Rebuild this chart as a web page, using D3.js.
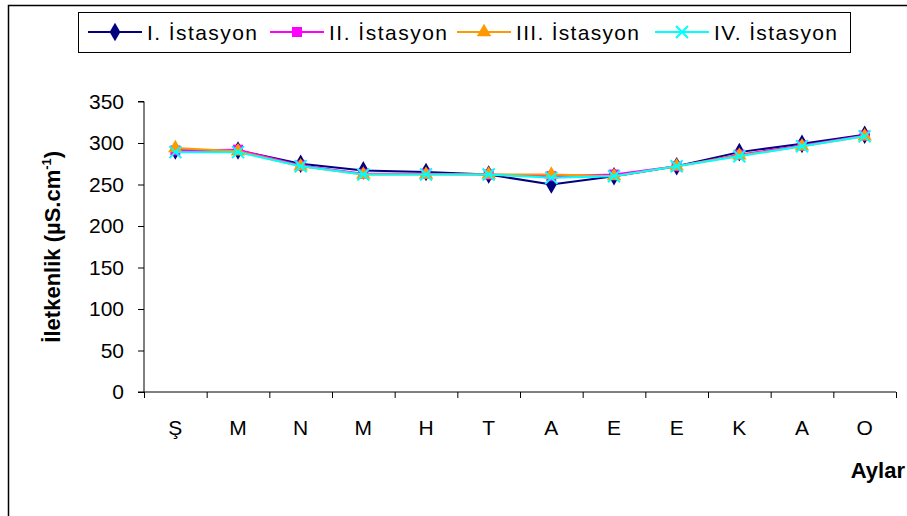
<!DOCTYPE html>
<html>
<head>
<meta charset="utf-8">
<script src="https://cdn.jsdelivr.net/npm/d3@7/dist/d3.min.js"></script>
<style>
  body { margin: 0; background: #fff; }
  text { font-family: "Liberation Sans", Arial, sans-serif; fill: #000; }
</style>
</head>
<body>
<svg id="chart" width="907" height="516"></svg>
<script>
// Monthly conductivity by station
const months = ["Ş", "M", "N", "M", "H", "T", "A", "E", "E", "K", "A", "O"];
const station1 = [291, 291, 275, 267, 265, 262, 250, 260, 272, 289, 299, 310];
const station2 = [291, 292, 273, 263, 263, 262, 260, 262, 272, 286, 297, 309];
const station3 = [294, 290, 272, 262, 262, 262, 262, 260, 272, 285, 296, 308];
const station4 = [289, 289, 272, 262, 262, 262, 258, 260, 272, 284, 296, 308];
const seriesNames = ["I. İstasyon", "II. İstasyon", "III. İstasyon", "IV. İstasyon"];
const yTicks = [0, 50, 100, 150, 200, 250, 300, 350];

const colors = ["#000080", "#ff00ff", "#ff9900", "#00ffff"];
const markers = ["diamond", "square", "triangle", "x"];
const seriesValues = [station1, station2, station3, station4];

const svg = d3.select("#chart");

// outer frame
svg.append("rect")
  .attr("x", 8.5).attr("y", 5.5).attr("width", 920).attr("height", 530)
  .attr("fill", "none").attr("stroke", "#000").attr("stroke-width", 1.5);

const plotLeft = 144, plotRight = 896, plotTop = 101.5, plotBottom = 392;

const x = d3.scaleBand().domain(d3.range(months.length)).range([plotLeft, plotRight]);
const xEdges = d3.scaleLinear().domain([0, months.length]).range([plotLeft, plotRight]);
const y = d3.scaleLinear().domain([0, 350]).range([plotBottom, plotTop]);

// y axis
const yAxis = svg.append("g")
  .attr("transform", `translate(${plotLeft},0)`)
  .call(d3.axisLeft(y).tickValues(yTicks).tickSize(6).tickPadding(14));
yAxis.select(".domain").attr("stroke", "#000").attr("d", `M-6,${plotTop}H0V${plotBottom}`);
yAxis.selectAll(".tick line").attr("stroke", "#000");
yAxis.selectAll(".tick text")
  .attr("font-size", 21)
  .attr("font-family", "Liberation Sans, Arial, sans-serif");

// x axis: ticks sit on category boundaries
const xAxis = svg.append("g")
  .attr("transform", `translate(0,${plotBottom})`)
  .call(d3.axisBottom(xEdges).tickValues(d3.range(months.length + 1)).tickSize(6).tickFormat(""));
xAxis.select(".domain").attr("stroke", "#000").attr("d", `M${plotLeft - 6},0H${plotRight}`);
xAxis.selectAll(".tick line").attr("stroke", "#000");

svg.append("g").selectAll("text")
  .data(months)
  .join("text")
  .attr("x", (d, i) => x(i) + x.bandwidth() / 2)
  .attr("y", 435)
  .attr("text-anchor", "middle")
  .attr("font-size", 21)
  .text(d => d);

// axis titles
const yTitle = svg.append("text")
  .attr("transform", `translate(60,${(plotTop + plotBottom) / 2}) rotate(-90)`)
  .attr("text-anchor", "middle")
  .attr("font-size", 22)
  .attr("font-weight", "bold");
yTitle.append("tspan").text("İletkenlik (µS.cm");
yTitle.append("tspan").attr("font-size", 13).attr("dy", -9).text("-1");
yTitle.append("tspan").attr("dy", 9).text(")");

svg.append("text")
  .attr("x", 905).attr("y", 478)
  .attr("text-anchor", "end")
  .attr("font-size", 22)
  .attr("font-weight", "bold")
  .text("Aylar");

// marker drawing
function drawMarker(g, type, color) {
  if (type === "x") {
    const s = 6;
    g.append("path")
      .attr("d", `M${-s},${-s}L${s},${s}M${-s},${s}L${s},${-s}`)
      .attr("stroke", color).attr("stroke-width", 2).attr("fill", "none");
  } else {
    const sym = { diamond: d3.symbolDiamond, square: d3.symbolSquare, triangle: d3.symbolTriangle }[type];
    const size = { diamond: 100, square: 100, triangle: 90 }[type];
    g.append("path")
      .attr("d", d3.symbol().type(sym).size(size)())
      .attr("fill", color);
  }
}

const line = d3.line()
  .x((d, i) => x(i) + x.bandwidth() / 2)
  .y(d => y(d));

seriesValues.forEach((vals, k) => {
  const g = svg.append("g");
  g.append("path")
    .attr("d", line(vals))
    .attr("fill", "none")
    .attr("stroke", colors[k])
    .attr("stroke-width", 2);
  vals.forEach((v, i) => {
    const m = g.append("g").attr("transform", `translate(${x(i) + x.bandwidth() / 2},${y(v)})`);
    drawMarker(m, markers[k], colors[k]);
  });
});

// legend
svg.append("rect")
  .attr("x", 78.5).attr("y", 12.5).attr("width", 772).attr("height", 40)
  .attr("fill", "#fff").attr("stroke", "#000").attr("stroke-width", 1);

const legendX = [88, 270, 457, 655];
const legendTextW = [110, 118, 123, 123];
seriesNames.forEach((name, k) => {
  const g = svg.append("g").attr("transform", `translate(${legendX[k]},32)`);
  g.append("line").attr("x1", 0).attr("x2", 54).attr("stroke", colors[k]).attr("stroke-width", 2);
  drawMarker(g.append("g").attr("transform", "translate(27,0)"), markers[k], colors[k]);
  g.append("text")
    .attr("x", 59).attr("y", 8)
    .attr("font-size", 21)
    .attr("textLength", legendTextW[k])
    .attr("lengthAdjust", "spacing")
    .text(name);
});
</script>
</body>
</html>
